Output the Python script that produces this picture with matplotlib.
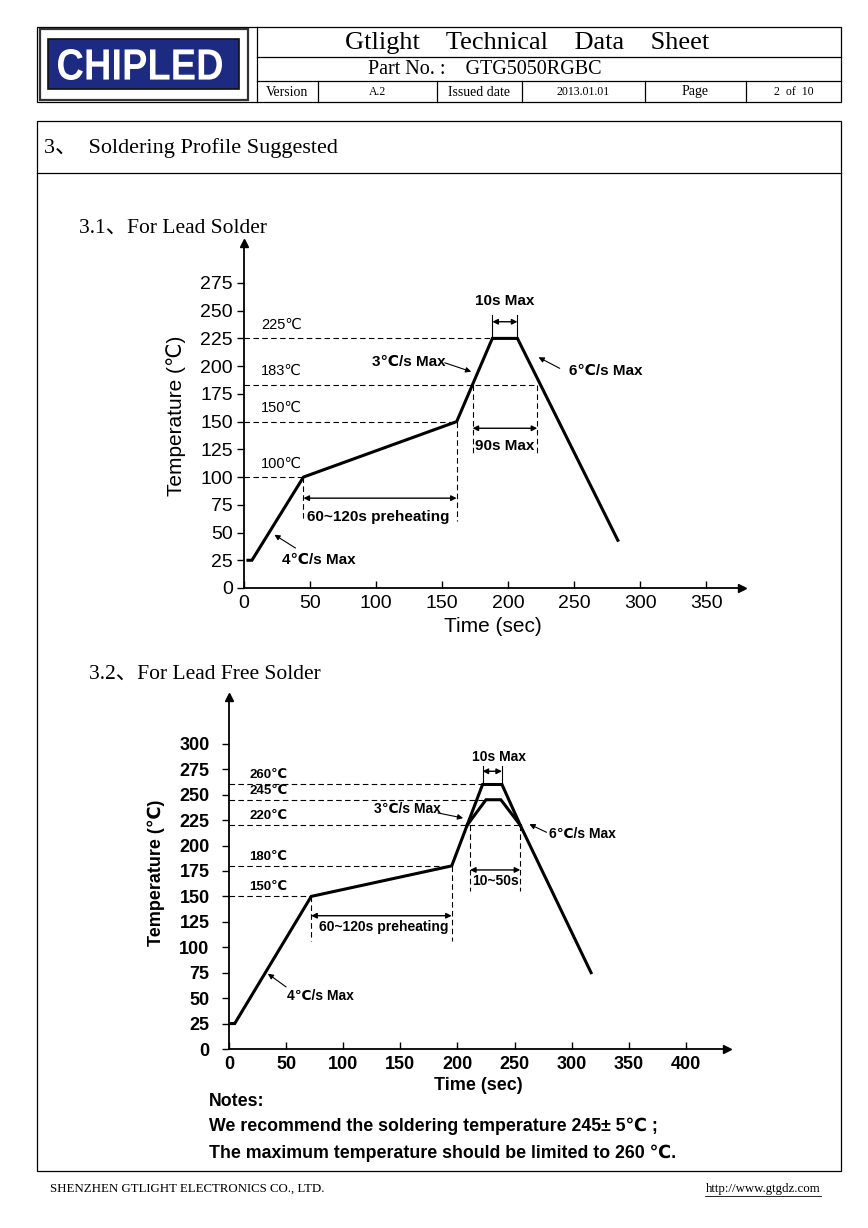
import matplotlib
matplotlib.use('Agg')
import matplotlib.pyplot as plt
from matplotlib.patches import Rectangle, PathPatch
from matplotlib.textpath import TextPath
from matplotlib.font_manager import FontProperties
from matplotlib.transforms import Affine2D

plt.rcParams['font.family'] = ['Liberation Sans', 'DejaVu Sans', 'Noto Sans CJK SC']

# ---- data ----
# 3.1 lead solder profile
lead_time = [3, 6, 45, 161, 188, 207, 283]
lead_temp = [25, 25, 100, 150, 225, 225, 43]
lead_levels = [225, 183, 150, 100]
lead_level_end = [188, 222, 161, 45]
lead_xticks = [0, 50, 100, 150, 200, 250, 300, 350]
lead_yticks = [0, 25, 50, 75, 100, 125, 150, 175, 200, 225, 250, 275]

# 3.2 lead free profile
free_time = [2, 5, 72, 195, 222, 239, 255, 317]
free_temp = [25, 25, 150, 180, 260, 260, 220, 75]
free_inner_time = [208.5, 225, 238, 255]
free_inner_temp = [220, 245, 245, 220]
free_levels = [260, 245, 220, 180, 150]
free_level_end = [222, 225, 255, 195, 72]
free_xticks = [0, 50, 100, 150, 200, 250, 300, 350, 400]
free_yticks = [0, 25, 50, 75, 100, 125, 150, 175, 200, 225, 250, 275, 300]

header_cells = ['Version', 'A.2', 'Issued date', '2013.01.01', 'Page', '2  of  10']

W, H = 868, 1228
fig = plt.figure(figsize=(W / 100, H / 100), dpi=100)
page = fig.add_axes([0, 0, 1, 1])
page.set_xlim(0, W)
page.set_ylim(H, 0)
page.axis('off')

serif = ['Liberation Serif', 'Noto Sans CJK SC']
lw1 = 0.9

# header table
page.add_patch(Rectangle((37, 27), 804, 75, fill=False, lw=lw1, ec='k'))
page.plot([257, 257], [27, 102], 'k', lw=lw1)
page.plot([257, 841], [57, 57], 'k', lw=lw1)
page.plot([257, 841], [81, 81], 'k', lw=lw1)
edges = [257, 318, 437, 522, 645, 746, 841]
for i, txt in enumerate(header_cells):
    if i > 0:
        page.plot([edges[i], edges[i]], [81, 102], 'k', lw=lw1)
    page.text((edges[i] + edges[i + 1]) / 2, 92, txt, ha='center', va='center',
              family=serif, fontsize=10 if i in (0, 2, 4) else 8.5)
page.text(527, 43, 'Gtlight    Technical    Data    Sheet', ha='center', va='center',
          family=serif, fontsize=19)
page.text(485, 69, 'Part No. :    GTG5050RGBC', ha='center', va='center',
          family=serif, fontsize=14.5)

# logo
page.add_patch(Rectangle((40, 29), 208, 71, fill=False, lw=1.6, ec='#333333'))
page.add_patch(Rectangle((48, 39), 191, 50, fc='#1d2a82', ec='#111111', lw=1.2))
tp = TextPath((0, 0), 'CHIPLED', size=1, prop=FontProperties(family='Liberation Sans', weight='bold'))
ext = tp.get_extents()
sx = 164 / ext.width
sy = 31 / ext.height
tr = Affine2D().translate(-ext.x0, -ext.y0).scale(sx, -sy).translate(58, 80)
page.add_patch(PathPatch(tr.transform_path(tp), fc='white', ec='none'))

# section box
page.add_patch(Rectangle((37, 121), 804, 1050, fill=False, lw=lw1, ec='k'))
page.plot([37, 841], [173, 173], 'k', lw=lw1)
page.text(44, 148, '3、  Soldering Profile Suggested', va='center', family=serif, fontsize=16)
page.text(79, 228, '3.1、For Lead Solder', va='center', family=serif, fontsize=15.5)
page.text(89, 674, '3.2、For Lead Free Solder', va='center', family=serif, fontsize=15.5)

# footer
page.text(50, 1189, 'SHENZHEN GTLIGHT ELECTRONICS CO., LTD.', va='center', family=serif, fontsize=9.3)
page.text(821, 1189, 'http://www.gtgdz.com', va='center', ha='right', family=serif, fontsize=9.3)
page.plot([705, 821], [1196, 1196], 'k', lw=0.6)

# notes
page.text(209, 1101, 'Notes:', va='center', fontsize=12.8, weight='bold')
page.text(209, 1126, 'We recommend the soldering temperature 245± 5℃ ;', va='center',
          fontsize=12.8, weight='bold')
page.text(209, 1153, 'The maximum temperature should be limited to 260 ℃.', va='center',
          fontsize=12.8, weight='bold')


def frame(ax, xmax, ymax, xticks, yticks, fs, weight, ypad):
    ax.set_xlim(0, xmax)
    ax.set_ylim(0, ymax)
    ax.patch.set_alpha(0)
    for s in ['top', 'right']:
        ax.spines[s].set_visible(False)
    for s in ['left', 'bottom']:
        ax.spines[s].set_linewidth(1.3)
    ax.set_xticks(xticks)
    ax.set_yticks(yticks)
    ax.tick_params(axis='x', direction='in', length=5, width=1, pad=5, labelsize=fs)
    ax.tick_params(axis='y', direction='out', length=5, width=1, pad=ypad, labelsize=fs)
    for lab in ax.get_xticklabels() + ax.get_yticklabels():
        lab.set_fontweight(weight)
    ax.plot(1, 0, '>k', ms=6, transform=ax.get_yaxis_transform(), clip_on=False)
    ax.plot(0, 1, '^k', ms=6, transform=ax.get_xaxis_transform(), clip_on=False)


def span(ax, x1, x2, y):
    ax.annotate('', xy=(x2, y), xytext=(x1, y),
                arrowprops=dict(arrowstyle='<|-|>', color='k', lw=1, mutation_scale=8,
                                shrinkA=0, shrinkB=0))


def pointer(ax, x1, y1, x2, y2):
    ax.annotate('', xy=(x2, y2), xytext=(x1, y1),
                arrowprops=dict(arrowstyle='-|>', color='k', lw=0.8, mutation_scale=8,
                                shrinkA=0, shrinkB=0))


dash = dict(color='k', lw=0.8, ls=(0, (5, 3)))

# ---- chart 3.1 ----
ax1 = fig.add_axes([244 / W, 1 - 588 / H, (742 - 244) / W, (588 - 243) / H])
frame(ax1, 377, 311, lead_xticks, lead_yticks, 14, 'normal', 3)
ax1.set_xlabel('Time (sec)', fontsize=15, labelpad=4)
ax1.set_ylabel('Temperature (℃)', fontsize=15, labelpad=10)
ax1.plot(lead_time, lead_temp, color='k', lw=2.2, solid_joinstyle='miter')
for lv, end in zip(lead_levels, lead_level_end):
    ax1.plot([0, end], [lv, lv], **dash)
    ax1.text(13, lv + 6, f'{lv}℃', fontsize=10.5, va='bottom')
ax1.plot([45, 45], [100, 60], **dash)
ax1.plot([161, 161], [150, 60], **dash)
ax1.plot([173, 173], [183, 121], **dash)
ax1.plot([222, 222], [183, 121], **dash)
ax1.plot([188, 188], [225, 246], color='k', lw=0.8)
ax1.plot([207, 207], [225, 246], color='k', lw=0.8)
span(ax1, 45, 161, 81)
span(ax1, 173, 222, 144)
span(ax1, 188, 207, 240)
ax1.text(48, 64, '60~120s preheating', fontsize=11, weight='bold', va='center')
ax1.text(197.5, 128, '90s Max', fontsize=11, weight='bold', va='center', ha='center')
ax1.text(197.5, 259, '10s Max', fontsize=11, weight='bold', va='center', ha='center')
ax1.text(97, 204, '3℃/s Max', fontsize=11, weight='bold', va='center')
pointer(ax1, 152, 203, 172, 195)
ax1.text(246, 196, '6℃/s Max', fontsize=11, weight='bold', va='center')
pointer(ax1, 239, 198, 223, 208)
ax1.text(29, 25, '4℃/s Max', fontsize=11, weight='bold', va='center')
pointer(ax1, 39, 36, 23, 48)

# ---- chart 3.2 ----
ax2 = fig.add_axes([229 / W, 1 - 1049 / H, (727 - 229) / W, (1049 - 697) / H])
frame(ax2, 436, 346, free_xticks, free_yticks, 13, 'bold', 9)
ax2.set_xlabel('Time (sec)', fontsize=13, weight='bold', labelpad=3)
ax2.set_ylabel('Temperature (℃)', fontsize=13, weight='bold', labelpad=10)
ax2.plot(free_time, free_temp, color='k', lw=2.2, solid_joinstyle='miter')
ax2.plot(free_inner_time, free_inner_temp, color='k', lw=2.2, solid_joinstyle='miter')
for lv, end in zip(free_levels, free_level_end):
    ax2.plot([0, end], [lv, lv], **dash)
    ax2.text(18, lv + 3, f'{lv}℃', fontsize=9.5, weight='bold', va='bottom')
ax2.plot([72, 72], [150, 106], **dash)
ax2.plot([195, 195], [180, 106], **dash)
ax2.plot([211, 211], [220, 155], **dash)
ax2.plot([255, 255], [220, 155], **dash)
ax2.plot([222, 222], [260, 278], color='k', lw=0.8)
ax2.plot([239, 239], [260, 278], color='k', lw=0.8)
span(ax2, 72, 195, 131)
span(ax2, 211, 255, 176)
span(ax2, 222, 239, 273)
ax2.text(79, 120, '60~120s preheating', fontsize=10, weight='bold', va='center')
ax2.text(233, 165, '10~50s', fontsize=10, weight='bold', va='center', ha='center')
ax2.text(236.5, 287, '10s Max', fontsize=10, weight='bold', va='center', ha='center')
ax2.text(127, 236, '3℃/s Max', fontsize=10, weight='bold', va='center')
pointer(ax2, 183, 232, 205, 227)
ax2.text(280, 211, '6℃/s Max', fontsize=10, weight='bold', va='center')
pointer(ax2, 278, 213, 263, 221)
ax2.text(51, 52, '4℃/s Max', fontsize=10, weight='bold', va='center')
pointer(ax2, 50, 61, 34, 74)

fig.savefig('out.png', dpi=100)
